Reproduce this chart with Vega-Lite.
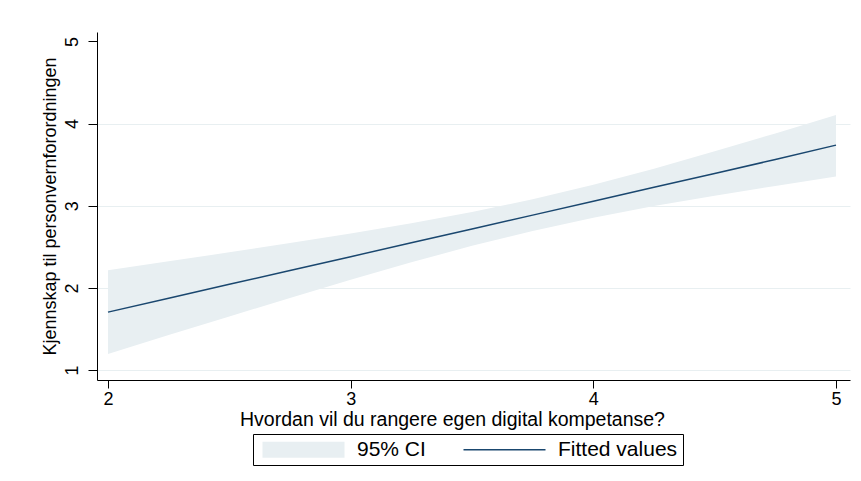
{
  "$schema": "https://vega.github.io/schema/vega-lite/v6.json",
  "width": 753,
  "height": 348,
  "autosize": {"type": "none"},
  "padding": {"left": 97, "top": 32, "right": 11, "bottom": 101},
  "background": "white",
  "datasets": {
    "band": [
      {"x": 2.0, "lo": 1.195, "hi": 2.215, "fit": 1.705},
      {"x": 2.25, "lo": 1.425, "hi": 2.323, "fit": 1.874},
      {"x": 2.5, "lo": 1.652, "hi": 2.433, "fit": 2.043},
      {"x": 2.75, "lo": 1.877, "hi": 2.545, "fit": 2.211},
      {"x": 3.0, "lo": 2.098, "hi": 2.663, "fit": 2.38},
      {"x": 3.25, "lo": 2.311, "hi": 2.787, "fit": 2.549},
      {"x": 3.5, "lo": 2.512, "hi": 2.923, "fit": 2.718},
      {"x": 3.75, "lo": 2.694, "hi": 3.078, "fit": 2.886},
      {"x": 4.0, "lo": 2.855, "hi": 3.255, "fit": 3.055},
      {"x": 4.25, "lo": 2.996, "hi": 3.452, "fit": 3.224},
      {"x": 4.5, "lo": 3.123, "hi": 3.663, "fit": 3.393},
      {"x": 4.75, "lo": 3.241, "hi": 3.881, "fit": 3.563},
      {"x": 5.0, "lo": 3.355, "hi": 4.105, "fit": 3.738}
    ],
    "keys": [
      {"series": "95% CI", "x": 3.0, "fit": 2.38},
      {"series": "Fitted values", "x": 3.0, "fit": 2.38}
    ]
  },
  "encoding": {
    "x": {
      "field": "x",
      "type": "quantitative",
      "scale": {"domain": [1.9547, 5.0577], "nice": false, "zero": false},
      "axis": {
        "title": "Hvordan vil du rangere egen digital kompetanse?",
        "values": [2, 3, 4, 5],
        "format": "d",
        "grid": false,
        "tickSize": 8,
        "labelPadding": 2,
        "titlePadding": 2,
        "titleFontSize": 19.5,
        "titleX": 355,
        "titleAlign": "center"
      }
    }
  },
  "layer": [
    {
      "data": {"name": "band"},
      "mark": {"type": "area", "color": "#e8eff2", "opacity": 1},
      "encoding": {
        "y": {
          "field": "lo",
          "type": "quantitative",
          "scale": {"domain": [0.8784, 5.1155], "nice": false, "zero": false},
          "axis": {
            "title": "Kjennskap til personvernforordningen",
            "values": [1, 2, 3, 4, 5],
            "format": "d",
            "grid": true,
            "gridColor": "#e8eff1",
            "gridOpacity": {"condition": {"test": "datum.value == 5", "value": 0}, "value": 1},
            "tickSize": 9,
            "labelAngle": -90,
            "labelAlign": "center",
            "labelBaseline": "alphabetic",
            "labelPadding": 11,
            "titlePadding": 4
          }
        },
        "y2": {"field": "hi"}
      }
    },
    {
      "data": {"name": "band"},
      "mark": {"type": "line", "color": "#1a476f", "strokeWidth": 1.5},
      "encoding": {
        "y": {"field": "fit", "type": "quantitative"}
      }
    },
    {
      "data": {"name": "keys"},
      "mark": {"type": "point", "filled": true, "opacity": 0},
      "encoding": {
        "y": {"field": "fit", "type": "quantitative"},
        "color": {
          "field": "series",
          "type": "nominal",
          "scale": {"domain": ["95% CI", "Fitted values"], "range": ["#e8eff2", "#1a476f"]},
          "legend": {
            "title": null,
            "orient": "none",
            "legendX": 156,
            "legendY": 402,
            "direction": "horizontal",
            "strokeColor": "#000000",
            "padding": 5,
            "symbolSize": 400,
            "symbolOpacity": 1,
            "symbolStrokeWidth": 0,
            "labelOffset": 78,
            "columnPadding": 33,
            "labelFontSize": 21
          }
        },
        "shape": {
          "field": "series",
          "type": "nominal",
          "scale": {"domain": ["95% CI", "Fitted values"], "range": ["M-0.6,-0.8H7.6V0.8H-0.6Z", "M-0.6,-0.08H7.6V0.08H-0.6Z"]},
          "legend": {
            "title": null,
            "orient": "none",
            "legendX": 156,
            "legendY": 402,
            "direction": "horizontal",
            "strokeColor": "#000000",
            "padding": 5,
            "symbolSize": 400,
            "symbolOpacity": 1,
            "symbolStrokeWidth": 0,
            "labelOffset": 78,
            "columnPadding": 33,
            "labelFontSize": 21
          }
        }
      }
    }
  ],
  "config": {
    "view": {"stroke": null},
    "font": "Liberation Sans",
    "axis": {
      "domainColor": "#000000",
      "domainWidth": 1,
      "tickColor": "#000000",
      "tickWidth": 1,
      "labelColor": "#000000",
      "titleColor": "#000000",
      "labelFont": "Liberation Sans",
      "titleFont": "Liberation Sans",
      "labelFontSize": 18,
      "titleFontSize": 18,
      "titleFontWeight": "normal"
    },
    "legend": {
      "labelFont": "Liberation Sans",
      "labelFontSize": 21,
      "labelColor": "#000000"
    }
  }
}
